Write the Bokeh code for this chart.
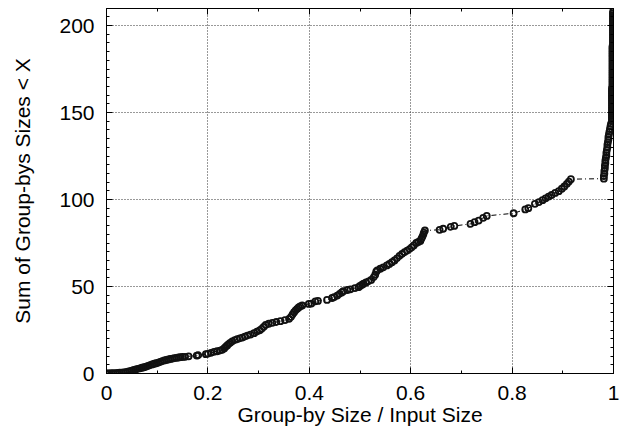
from bokeh.plotting import figure
from bokeh.models import LinearAxis, FixedTicker, Range1d
from bokeh.embed import file_html
from bokeh.resources import INLINE

# ---- data: group-by size / input size (x) vs cumulative sum of sizes (y) ----
seg_a_x = [0.000, 0.003, 0.006, 0.010, 0.014, 0.018, 0.022, 0.026, 0.030, 0.034,
           0.038, 0.042, 0.046, 0.050, 0.054, 0.058, 0.062, 0.066, 0.070, 0.074,
           0.078, 0.082, 0.086, 0.090, 0.094, 0.098, 0.102, 0.106, 0.110, 0.114,
           0.118, 0.122, 0.126, 0.130, 0.134, 0.138, 0.142, 0.146, 0.150, 0.155,
           0.162, 0.178, 0.181]
seg_a_y = [0.0, 0.05, 0.1, 0.15, 0.2, 0.25, 0.35, 0.45, 0.55, 0.7,
           0.85, 1.0, 1.3, 1.7, 2.1, 2.4, 2.7, 3.0, 3.3, 3.6,
           4.0, 4.4, 4.8, 5.2, 5.6, 5.9, 6.3, 6.7, 7.1, 7.5,
           7.8, 8.1, 8.4, 8.6, 8.8, 9.0, 9.2, 9.4, 9.5, 9.6,
           9.9, 10.3, 10.5]

seg_b_x = [0.196, 0.200, 0.206, 0.212, 0.218, 0.224, 0.228, 0.232, 0.235, 0.238,
           0.241, 0.244, 0.248, 0.253, 0.258, 0.263, 0.268, 0.273, 0.278, 0.284,
           0.291, 0.297, 0.302, 0.306, 0.310, 0.314, 0.320, 0.327, 0.335, 0.343,
           0.352, 0.360, 0.364, 0.367, 0.370, 0.373, 0.376, 0.379, 0.382, 0.386]
seg_b_y = [11.1, 11.3, 11.8, 12.4, 12.8, 13.2, 13.6, 14.4, 15.3, 16.1,
           16.9, 17.6, 18.4, 19.2, 19.7, 20.2, 20.6, 21.2, 21.8, 22.4,
           23.2, 24.1, 24.8, 25.6, 26.8, 28.0, 28.6, 29.1, 29.6, 30.1,
           30.7, 31.4, 32.5, 34.0, 35.2, 36.2, 37.2, 38.0, 38.6, 39.1]

seg_c_x = [0.399, 0.404, 0.412, 0.417, 0.435, 0.445, 0.449, 0.455, 0.460, 0.464,
           0.467, 0.475, 0.481, 0.490, 0.497, 0.500, 0.504, 0.507, 0.512, 0.517,
           0.522, 0.527, 0.530, 0.532, 0.534, 0.540, 0.546, 0.553, 0.558, 0.563,
           0.568, 0.573, 0.578, 0.583, 0.588, 0.593, 0.598, 0.602, 0.606, 0.611,
           0.615, 0.619, 0.621, 0.623, 0.625, 0.626, 0.628]
seg_c_y = [40.0, 40.2, 41.4, 41.7, 42.3, 43.4, 43.9, 44.8, 45.8, 46.6,
           47.3, 48.0, 48.4, 49.1, 49.6, 50.3, 51.0, 51.6, 52.3, 53.0,
           53.8, 55.3, 56.8, 58.5, 59.3, 60.2, 61.0, 62.1, 63.0, 64.0,
           65.0, 66.2, 67.6, 68.7, 69.7, 70.6, 71.5, 72.5, 73.6, 75.0,
           75.6, 76.2, 77.3, 78.5, 80.0, 81.0, 82.2]

seg_d_x = [0.657, 0.664, 0.679, 0.686, 0.718, 0.726, 0.734, 0.743, 0.750, 0.803,
           0.826, 0.832, 0.845, 0.853, 0.860, 0.866, 0.872, 0.878, 0.885, 0.892,
           0.898, 0.903, 0.908, 0.912, 0.916]
seg_d_y = [82.6, 83.2, 84.3, 84.8, 86.0, 87.0, 87.9, 89.5, 90.6, 92.1,
           94.3, 95.0, 97.5, 98.5, 99.6, 100.7, 101.7, 102.6, 103.8, 104.8,
           106.2, 107.5, 109.0, 110.3, 111.7]

seg_e_x = [0.981, 0.981, 0.982, 0.982, 0.983, 0.983, 0.984, 0.984, 0.985, 0.986,
           0.986, 0.987, 0.988, 0.988, 0.989, 0.990, 0.990, 0.991, 0.992, 0.993,
           0.994, 0.995]
seg_e_y = [112.0, 113.5, 115.0, 116.5, 118.0, 119.5, 121.0, 122.5, 124.0, 125.5,
           127.0, 128.5, 130.0, 131.5, 133.0, 134.5, 136.0, 137.5, 139.0, 140.5,
           142.0, 143.5]

seg_f_x = [0.997, 0.997, 0.997, 0.997, 0.997, 0.997, 0.997, 0.997, 0.997, 0.997,
           0.997, 0.997, 0.997, 0.997, 0.997, 0.997, 0.997, 0.997, 0.997, 0.997,
           0.998, 0.998, 0.998, 0.998, 0.998, 0.998, 0.998, 0.998, 0.998, 0.998,
           0.998, 0.998, 0.998, 0.998, 0.998, 0.998, 0.998, 0.998, 0.998, 0.998,
           0.998, 0.998, 0.998, 0.998, 0.999, 0.999, 0.999, 0.999, 0.999, 0.999,
           0.999, 0.999, 0.999, 0.999, 0.999, 0.999, 0.999, 0.999, 0.999, 0.999,
           0.999, 0.999, 0.999, 0.999]
seg_f_y = [145, 146, 147, 148, 149, 150, 151, 152, 153, 154,
           155, 156, 157, 158, 159, 160, 161, 162, 163, 164,
           165, 166, 167, 168, 169, 170, 171, 172, 173, 174,
           175, 176, 177, 178, 179, 180, 181, 182, 183, 184,
           185, 186, 187, 188, 189, 190, 191, 192, 193, 194,
           195, 196, 197, 198, 199, 200, 201, 202, 203, 204,
           205, 206, 207, 208]

x_ticks = [0, 0.2, 0.4, 0.6, 0.8, 1]
x_tick_labels = ["0", "0.2", "0.4", "0.6", "0.8", "1"]
x_minor = [0.1, 0.3, 0.5, 0.7, 0.9]
y_ticks = [0, 50, 100, 150, 200]
y_tick_labels = ["0", "50", "100", "150", "200"]
y_minor = list(range(0, 210, 5))

xs = seg_a_x + seg_b_x + seg_c_x + seg_d_x + seg_e_x + seg_f_x
ys = seg_a_y + seg_b_y + seg_c_y + seg_d_y + seg_e_y + seg_f_y

FONT = "Liberation Sans"

p = figure(width=623, height=430, x_range=Range1d(0, 1), y_range=Range1d(0, 209.8),
           output_backend="svg", toolbar_location=None,
           min_border_left=106, min_border_right=10, min_border_top=8, min_border_bottom=57)
p.outline_line_color = "black"
p.outline_line_width = 1
p.background_fill_color = "white"
p.border_fill_color = "white"

xt = FixedTicker(ticks=x_ticks, minor_ticks=x_minor)
yt = FixedTicker(ticks=y_ticks, minor_ticks=y_minor)

def style_axis(ax, ticker, show_labels):
    ax.ticker = ticker
    ax.axis_line_color = "black"
    ax.major_tick_line_color = "black"
    ax.minor_tick_line_color = "black"
    ax.major_tick_in = 6
    ax.major_tick_out = 0
    ax.minor_tick_in = 3
    ax.minor_tick_out = 0
    if show_labels:
        ax.major_label_text_font = FONT
        ax.major_label_text_font_size = "21px"
        ax.major_label_text_color = "black"
        ax.axis_label_text_font = FONT
        ax.axis_label_text_font_size = "21px"
        ax.axis_label_text_font_style = "normal"
        ax.axis_label_text_color = "black"
    else:
        # mirror axis: ticks only, labels not drawn
        ax.major_label_text_font_size = "1px"
        ax.major_label_text_color = None
        ax.major_label_standoff = 0

xa = p.xaxis[0]
style_axis(xa, xt, True)
xa.major_label_overrides = dict(zip(x_ticks, x_tick_labels))
xa.axis_label = "Group-by Size / Input Size"
xa.major_label_standoff = 12
xa.axis_label_standoff = 0

ya = p.yaxis[0]
style_axis(ya, yt, True)
ya.major_label_overrides = dict(zip(y_ticks, y_tick_labels))
ya.axis_label = "Sum of Group-bys Sizes < X"
ya.major_label_standoff = 12
ya.axis_label_standoff = 22

top = LinearAxis()
style_axis(top, xt, False)
p.add_layout(top, "above")
right = LinearAxis()
style_axis(right, yt, False)
p.add_layout(right, "right")

for g in (p.xgrid[0], p.ygrid[0]):
    g.grid_line_color = "#333333"
    g.grid_line_dash = "1 2"
    g.grid_line_width = 1
p.xgrid[0].ticker = xt
p.ygrid[0].ticker = yt

p.line(xs, ys, line_color="black", line_width=1, line_dash="5 3 1 3")
p.scatter(xs, ys, marker="circle", size=6, fill_color=None,
          line_color="#111111", line_width=1.8)

open("out.html", "w").write(file_html(p, INLINE))
